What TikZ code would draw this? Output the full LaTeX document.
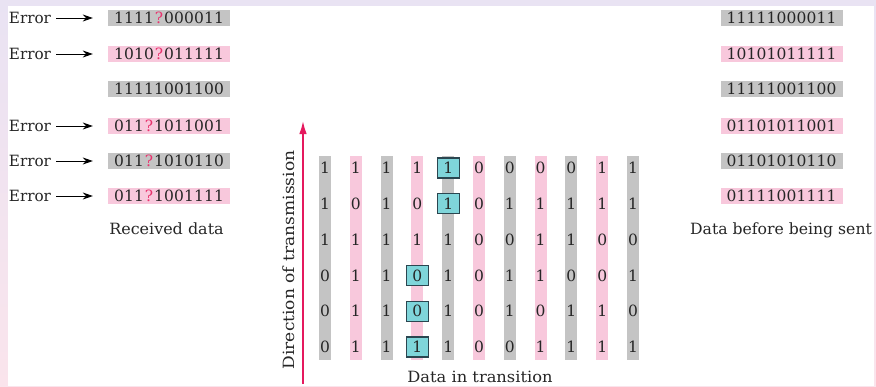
\documentclass[tikz,border=0pt]{standalone}
\usepackage{fontspec}
\setmainfont{DejaVu Serif}
\usepackage{graphicx}
\usetikzlibrary{arrows.meta}
\definecolor{lav}{HTML}{E9E3F3}
\definecolor{pinkbg}{HTML}{FAE4EC}
\definecolor{barg}{HTML}{C4C4C4}
\definecolor{barp}{HTML}{F8C8DC}
\definecolor{qred}{HTML}{E8336E}
\definecolor{arr}{HTML}{E5195E}
\definecolor{cyanbox}{HTML}{7FD5DA}
\definecolor{boxedge}{HTML}{2B4650}
\definecolor{txt}{HTML}{262626}
\newcommand\qm{\textcolor{qred}{?}}
\newcommand\bitcell[1]{\makebox[10pt]{#1}}
\def\bitrow#1{\bitloopX#1\relax}
\def\bitloopX#1{\ifx\relax#1\else\bitcell{#1}\expandafter\bitloopX\fi}
\newcommand\wid[2]{\scalebox{#1}[1]{#2}}
\begin{document}
\begin{tikzpicture}[x=1pt,y=-1pt,
  every node/.style={text=txt,font=\fontsize{15.5}{18}\selectfont},
  gbar/.style={fill=barg,minimum width=122pt,minimum height=16.5pt,inner sep=0pt},
  pbar/.style={fill=barp,minimum width=122pt,minimum height=16.5pt,inner sep=0pt},
  gstrip/.style={fill=barg,minimum width=12pt,minimum height=204pt,inner sep=0pt},
  pstrip/.style={fill=barp,minimum width=12pt,minimum height=204pt,inner sep=0pt},
  errlabel/.style={inner sep=0pt},
  errarrow/.style={-{Stealth[length=10pt,width=7pt]},line width=0.9pt,black,shorten <=5pt,shorten >=15pt},
  hlbox/.style={draw=boxedge,fill=cyanbox,line width=1.1pt,minimum width=22pt,minimum height=20pt,inner sep=0pt},
  redarrow/.style={-{Latex[length=13pt,width=7.5pt]},line width=1.6pt,arr},
  caption/.style={inner sep=0pt}
]
\useasboundingbox (0,0) rectangle (876,386);
\shade[top color=lav,bottom color=pinkbg] (0,0) rectangle (876,386);
\fill[lav] (0,0) rectangle (876,6);
\fill[white] (8,6) rectangle (873.5,386);

% left: received data
\node[gbar] (L1) at (169,18)  {\bitrow{1111\qm000011}};
\node[pbar] (L2) at (169,54)  {\bitrow{1010\qm011111}};
\node[gbar] (L3) at (169,89)  {\bitrow{11111001100}};
\node[pbar] (L4) at (169,126) {\bitrow{011\qm1011001}};
\node[gbar] (L5) at (169,161) {\bitrow{011\qm1010110}};
\node[pbar] (L6) at (169,196) {\bitrow{011\qm1001111}};
\foreach \r/\y in {1/18,2/54,4/126,5/161,6/196}{
  \node[errlabel] (E\r) at (30,\y) {\wid{0.98}{Error}};
  \draw[errarrow] (E\r.east) -- (L\r.west);
}
\node[caption] (recv) at (166.5,229) {\wid{1.03}{Received data}};

% right: data before being sent
\node[gbar] (R1) at (781.5,18)  {\bitrow{11111000011}};
\node[pbar] (R2) at (781.5,54)  {\bitrow{10101011111}};
\node[gbar] (R3) at (781.5,89)  {\bitrow{11111001100}};
\node[pbar] (R4) at (781.5,126) {\bitrow{01101011001}};
\node[gbar] (R5) at (781.5,161) {\bitrow{01101010110}};
\node[pbar] (R6) at (781.5,196) {\bitrow{01111001111}};
\node[caption] (sent) at (781,230) {\wid{1.01}{Data before being sent}};

% middle grid
\foreach \c in {1,...,11}{
  \pgfmathtruncatemacro\odd{mod(\c,2)}
  \ifnum\odd=1
    \node[gstrip] (S\c) at ({325+30.8*(\c-1)},258) {};
  \else
    \node[pstrip] (S\c) at ({325+30.8*(\c-1)},258) {};
  \fi
}
\foreach \row [count=\r] in {{1,1,1,1,1,0,0,0,0,1,1},{1,0,1,0,1,0,1,1,1,1,1},{1,1,1,1,1,0,0,1,1,0,0},{0,1,1,0,1,0,1,1,0,0,1},{0,1,1,0,1,0,1,0,1,1,0},{0,1,1,1,1,0,0,1,1,1,1}}{
  \foreach \v [count=\c] in \row {
    \node[inner sep=0pt] (g-\r-\c) at ({325+30.8*(\c-1)},{168+35.8*(\r-1)}) {\v};
  }
}
\node[hlbox] (B1) at (g-1-5) {1};
\node[hlbox] (B2) at (g-2-5) {1};
\node[hlbox] (B3) at (g-4-4) {0};
\node[hlbox] (B4) at (g-5-4) {0};
\node[hlbox] (B5) at (g-6-4) {1};

\coordinate (a0) at (303,384);
\coordinate (a1) at (303,121);
\draw[redarrow] (a0) -- (a1);
\node[caption,rotate=90] (dir) at (289,260) {\wid{1.1}{Direction of transmission}};
\node[caption] (trans) at (480,377) {\wid{1.05}{Data in transition}};
\end{tikzpicture}
\end{document}
